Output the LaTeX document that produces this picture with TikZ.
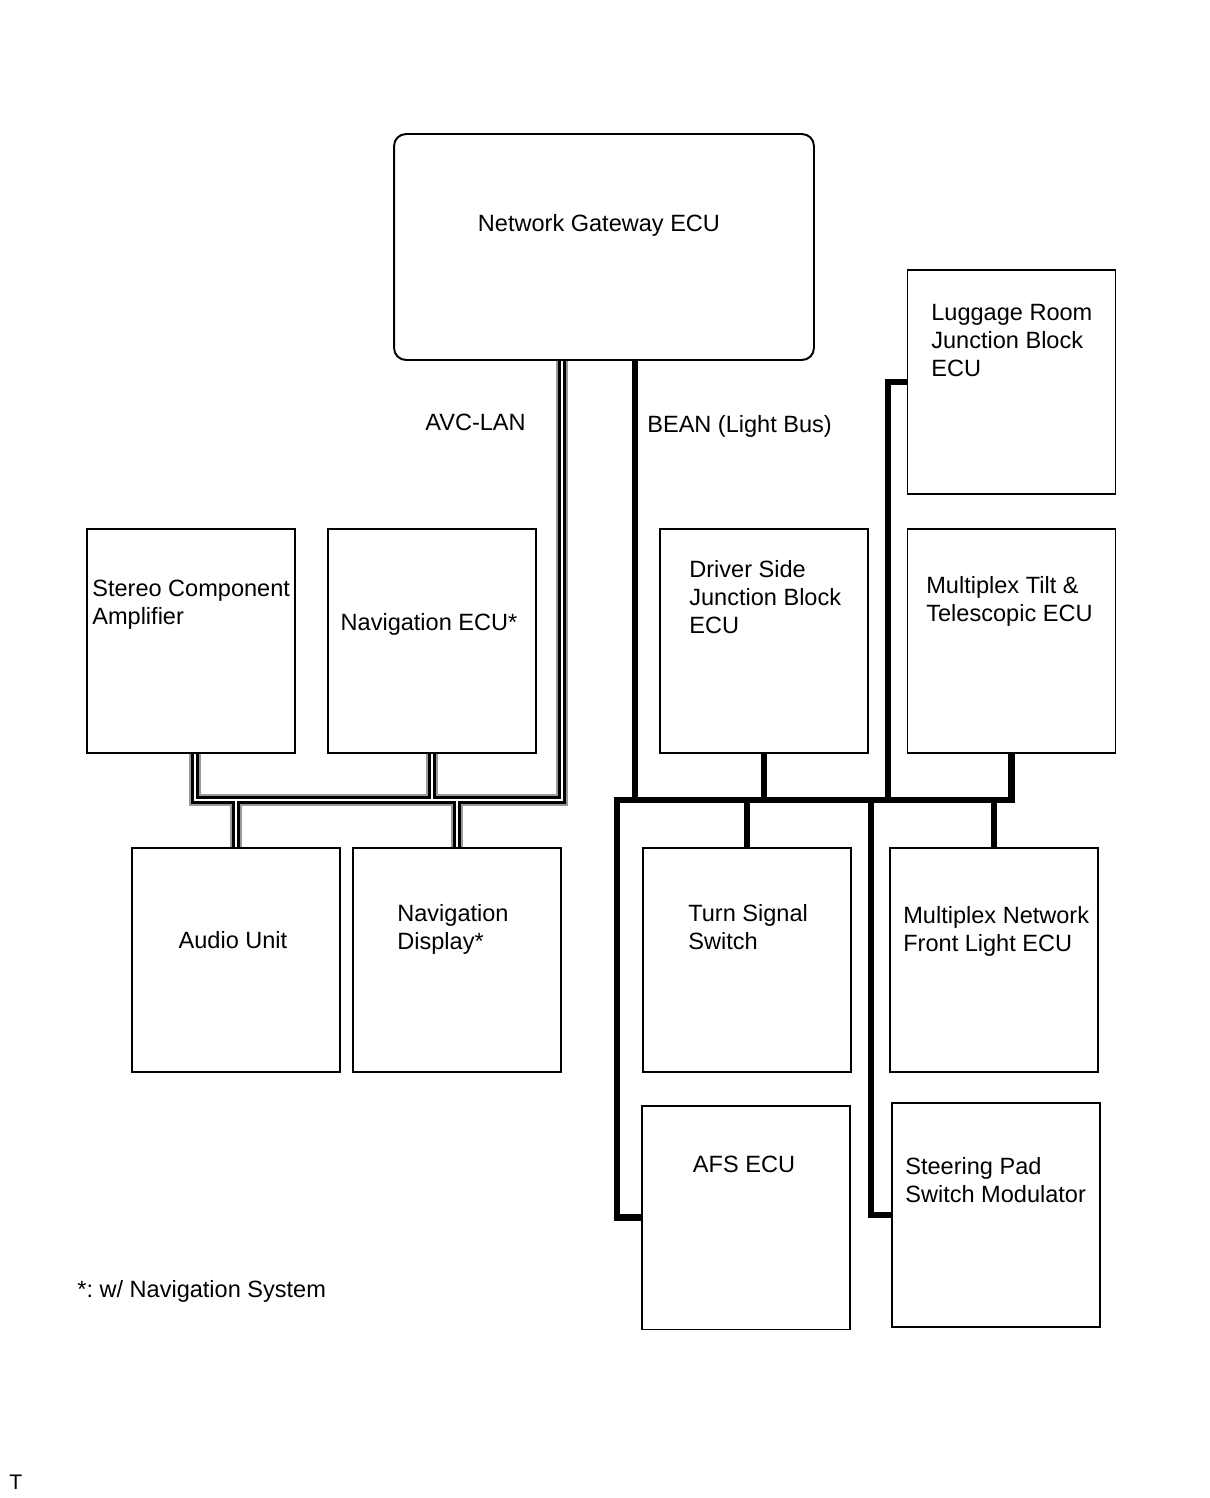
\documentclass[tikz,border=0pt]{standalone}
\usepackage{fontspec}
\setmainfont{Liberation Sans}
\usetikzlibrary{backgrounds}
\frenchspacing

\tikzset{
  ecu/.style={draw, line width=1.1pt, minimum width=4.16cm, minimum height=4.48cm, inner sep=0pt},
  txt/.style={anchor=north west, align=left, inner sep=0pt, font=\fontsize{13.4}{15.9}\selectfont},
  ctxt/.style={txt, anchor=north, align=center},
  bean/.style={line width=3.5pt},
}

\begin{document}
\begin{tikzpicture}[x=0.02cm, y=-0.02cm]
  \useasboundingbox (0,0) rectangle (1210,1498);

  \node[ecu, minimum width=8.4cm, minimum height=4.52cm, rounded corners=0.24cm] (gw) at (604,247) {};
  \node[ecu] (lug) at (1011.5,382) {};
  \node[ecu] (stereo) at (191,641) {};
  \node[ecu] (navecu) at (432,641) {};
  \node[ecu] (driver) at (764,641) {};
  \node[ecu] (tilt) at (1011.5,641) {};
  \node[ecu] (audio) at (236,960) {};
  \node[ecu] (navdisp) at (457,960) {};
  \node[ecu] (turn) at (747,960) {};
  \node[ecu] (mfl) at (994,960) {};
  \node[ecu] (afs) at (746,1217.5) {};
  \node[ecu] (spad) at (996,1215) {};

  \node[ctxt] (gwtxt) at (599,214) {Network Gateway ECU};
  \node[txt] (lugtxt) at (931,304) {Luggage Room\\Junction Block\\ECU};
  \node[txt] (stereotxt) at (92,580) {Stereo Component\\Amplifier};
  \node[ctxt] (navecutxt) at (429,613) {Navigation ECU*};
  \node[txt] (drivertxt) at (689,560) {Driver Side\\Junction Block\\ECU};
  \node[txt] (tilttxt) at (926,576) {Multiplex Tilt \&\\Telescopic ECU};
  \node[ctxt] (audiotxt) at (233,931) {Audio Unit};
  \node[txt] (navdisptxt) at (397,904) {Navigation\\Display*};
  \node[txt] (turntxt) at (688,904) {Turn Signal\\Switch};
  \node[txt] (mfltxt) at (903,906) {Multiplex Network\\Front Light ECU};
  \node[ctxt] (afstxt) at (744,1156) {AFS ECU};
  \node[txt] (spadtxt) at (905,1157) {Steering Pad\\Switch Modulator};

  \node[txt] (avclbl) at (425,414) {AVC-LAN};
  \node[txt] (beanlbl) at (647,415) {BEAN (Light Bus)};
  \node[txt] (note) at (77,1280) {*: w/ Navigation System};
  \node[txt, font=\fontsize{12}{14}\selectfont] (tmark) at (9,1475) {T};

  \coordinate (abus) at (562,800);
  \coordinate (bl) at (617,800);
  \coordinate (br) at (tilt.south |- bl);
  \coordinate (lugj) at (888,800);
  \coordinate (spj) at (871,800);

  \begin{scope}[on background layer]
    % AVC-LAN
    \foreach \w/\c in {6.3pt/black!40, 4.2pt/black, 1.5pt/white} {
      \draw[line width=\w, \c] (gw.south -| abus) -- (abus) -| ([xshift=0.08cm]stereo.south);
      \draw[line width=\w, \c] (navecu.south) -- (navecu.south |- abus);
      \draw[line width=\w, \c] (audio.north) -- (audio.north |- abus);
      \draw[line width=\w, \c] (navdisp.north) -- (navdisp.north |- abus);
    }
    % BEAN
    \draw[bean] ([xshift=0.62cm]gw.south) -- ([xshift=0.62cm]gw.south |- bl);
    \draw[bean] (afs.west) -| (bl) -- (br) -- (tilt.south);
    \draw[bean] (lug.west) -| (lugj);
    \draw[bean] (spad.west) -| (spj);
    \draw[bean] (driver.south) -- (driver.south |- bl);
    \draw[bean] (turn.north) -- (turn.north |- bl);
    \draw[bean] (mfl.north) -- (mfl.north |- bl);
  \end{scope}
\end{tikzpicture}
\end{document}
